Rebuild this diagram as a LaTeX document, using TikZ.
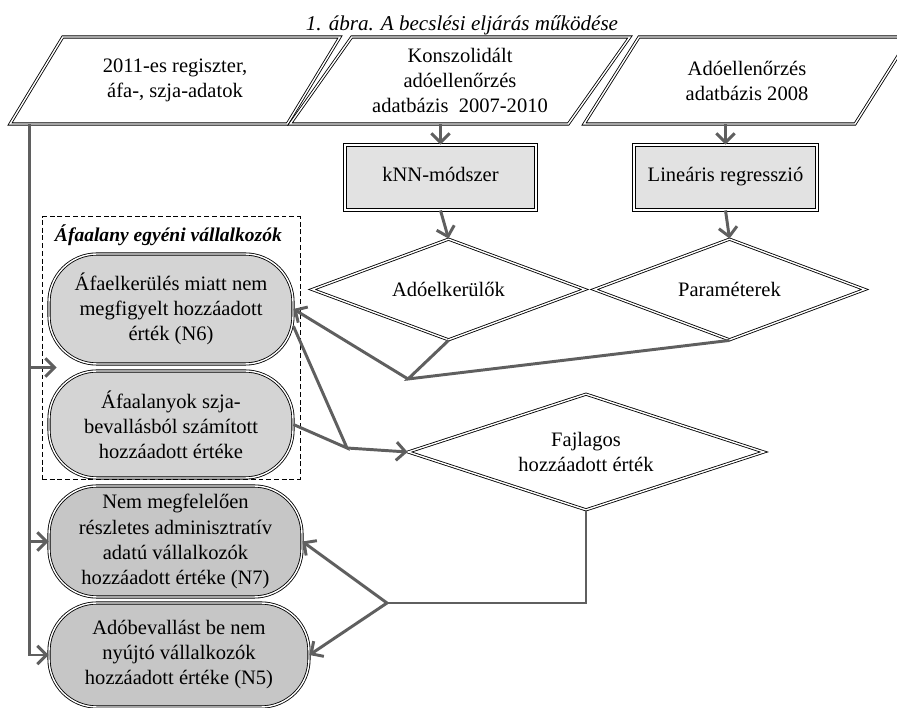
\documentclass[tikz,border=0pt]{standalone}
\usepackage{fontspec}
\setmainfont{Liberation Serif}
\usepackage{tikz}
\usetikzlibrary{calc}
\usetikzlibrary{arrows.meta}
\usetikzlibrary{shapes.geometric}
\usetikzlibrary{positioning}

\definecolor{lineGray}{RGB}{95,95,95}
\definecolor{boxGray}{RGB}{226,226,226}
\definecolor{pillGray}{RGB}{212,212,212}
\definecolor{pillDark}{RGB}{198,198,198}

\begin{document}
\begin{tikzpicture}[
  font=\fontsize{14.6}{17.8}\selectfont,
  dbl/.style={draw=black, double=white, double distance=1pt, line width=0.6pt},
  datain/.style={dbl, trapezium, trapezium left angle=53, trapezium right angle=127, trapezium stretches=true, minimum height=2.175cm, inner sep=1pt, align=center},
  procbox/.style={draw, dbl, rectangle, fill=boxGray, minimum height=1.625cm, inner sep=1pt, text height=0.72em, text depth=0.22em},
  decision/.style={dbl, diamond, aspect=2.7, inner sep=1pt, align=center},
  pill/.style={dbl, rectangle, rounded corners=1.2cm, inner sep=1pt, align=center},
  conn/.style={draw=lineGray, line width=2.1pt},
  arr/.style={conn, -{Straight Barb[length=6.5pt,width=13pt]}}
]
\clip (0,0) rectangle (22.425,17.7);

\node at (11.55,17.075) (title) {\fontsize{15}{18}\selectfont\itshape 1. ábra. A becslési eljárás működése};

\node at (4.375,15.6875)[datain, minimum width=8.25cm] (par1) {2011-es regiszter,\\áfa-, szja-adatok};
\node at (11.5,15.6875)[datain, minimum width=8.5cm] (par2) {Konszolidált\\adóellenőrzés\\adatbázis~~2007-2010};
\node at (18.675,15.6875)[datain, minimum width=8.15cm] (par3) {Adóellenőrzés\\adatbázis 2008};

\node at (11.0125,13.2625)[procbox, minimum width=4.775cm] (knn) {kNN-módszer};
\node at (18.1375,13.2625)[procbox, minimum width=4.575cm] (linreg) {Lineáris regresszió};

\node at (11.2125,10.4625)[decision, minimum width=6.825cm, minimum height=2.525cm] (evaders) {Adóelkerülők};
\node at (18.2375,10.4625)[decision, minimum width=6.775cm, minimum height=2.525cm] (params) {Paraméterek};
\node at (14.65,6.4)[decision, minimum width=8.9cm, minimum height=2.9cm] (specva) {Fajlagos\\hozzáadott érték};

\node at (4.275,9.0)[draw=black, dashed, dash pattern=on 3.5pt off 2pt, line width=0.7pt, minimum width=6.45cm, minimum height=6.55cm] (grp) {};
\node at (1.25,11.825)[anchor=west, font=\fontsize{13.9}{16}\selectfont\bfseries\itshape] (grplabel) {Áfaalany egyéni vállalkozók};

\node at (4.275,9.975)[pill, fill=pillGray, minimum width=6.1cm, minimum height=2.75cm] (n6) {Áfaelkerülés miatt nem\\megfigyelt hozzáadott\\érték (N6)};
\node at (4.275,7.0875)[pill, fill=pillGray, minimum width=6.1cm, minimum height=2.675cm] (szja) {Áfaalanyok szja-\\bevallásból számított\\hozzáadott értéke};
\node at (4.3875,4.1625)[pill, fill=pillDark, minimum width=6.325cm, minimum height=2.775cm] (n7) {Nem megfelelően\\részletes adminisztratív\\adatú vállalkozók\\hozzáadott értéke (N7)};
\node at (4.475,1.325)[pill, fill=pillDark, minimum width=6.5cm, minimum height=2.6cm] (n5) {Adóbevallást be nem\\nyújtó vállalkozók\\hozzáadott értéke (N5)};

\coordinate (j1) at (10.2,8.225);
\coordinate (j2) at (8.675,6.5);
\coordinate (j3) at (9.675,2.625);
\coordinate (gap) at ($(n6.south west)!0.5!(szja.north west)+(0.2,0)$);

\draw[arr] (knn.north |- par2.south) -- (knn.north);
\draw[arr] (knn.south) -- (evaders.north);
\draw[arr] (linreg.north |- par3.south) -- (linreg.north);
\draw[arr] (linreg.south) -- (params.north);

\draw[conn] (evaders.south) -- (j1) -- (params.south);
\draw[arr] (j1) -- (n6.east);
\draw[conn] (n6.-8) -- (j2) -- (szja.east);
\draw[arr] (j2) -- (specva.west);
\draw[conn] (specva.south) -- (specva.south |- j3) -- (j3);
\draw[arr] (j3) -- (n7.east);
\draw[arr] (j3) -- (n5.east);

\draw[arr] ([xshift=0.5cm]par1.bottom left corner) coordinate (lt) -- (lt |- n5.west) -- (n5.west);
\draw[arr] (lt |- n7.west) -- (n7.west);
\draw[arr] (lt |- gap) -- (gap);

\end{tikzpicture}
\end{document}
